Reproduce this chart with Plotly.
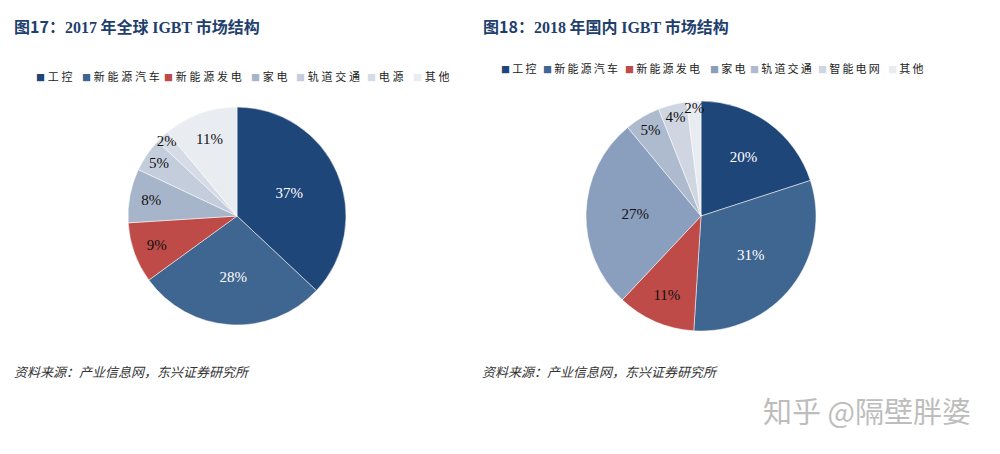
import plotly.graph_objects as go

# ---- data ----
cats_2017 = ["工控", "新能源汽车", "新能源发电", "家电", "轨道交通", "电源", "其他"]
vals_2017 = [37, 28, 9, 8, 5, 2, 11]
cols_2017 = ["#1F4679", "#3F6591", "#BE4B48", "#A7B5CA", "#C3CDDB", "#D6DCE6", "#E9ECF1"]
txtc_2017 = ["white", "white", "#111111", "#111111", "#111111", "#111111", "#111111"]

cats_2018 = ["工控", "新能源汽车", "新能源发电", "家电", "轨道交通", "智能电网", "其他"]
vals_2018 = [20, 31, 11, 27, 5, 4, 2]
cols_2018 = ["#1F4679", "#3F6591", "#BE4B48", "#8A9FBD", "#AEBBCF", "#CFD6E2", "#E8EBF0"]
txtc_2018 = ["white", "white", "#111111", "#111111", "#111111", "#111111", "#111111"]

title_2017 = ["图17：", "2017", " 年全球 ", "IGBT", " 市场结构"]
title_2018 = ["图18：", "2018", " 年国内 ", "IGBT", " 市场结构"]
source_txt = "资料来源：产业信息网，东兴证券研究所"

W, H = 1000, 454
SANS = "Noto Sans CJK SC"
SERIF = "Liberation Serif"

fig = go.Figure()


def add_pie(vals, cats, cols, txtc, cx, cy, r):
    fig.add_trace(go.Pie(
        values=vals, labels=cats, sort=False, direction="clockwise", rotation=0,
        marker=dict(colors=cols, line=dict(color="white", width=0.5)),
        texttemplate="%{value}%", textposition="inside",
        insidetextorientation="horizontal",
        textfont=dict(family=SERIF, size=15, color=txtc),
        domain=dict(x=[(cx - r) / W, (cx + r) / W],
                    y=[(H - cy - r) / H, (H - cy + r) / H]),
        showlegend=False, hoverinfo="label+percent",
    ))


add_pie(vals_2017, cats_2017, cols_2017, txtc_2017, 237, 216, 109)
add_pie(vals_2018, cats_2018, cols_2018, txtc_2018, 701, 216, 115)


def spaced(s, sp):
    return sp.join(list(s))


ann = []
# titles (serif for Latin / numbers, sans for CJK)
for x0, parts in [(12, title_2017), (481, title_2018)]:
    txt = ""
    for i, p in enumerate(parts):
        fam = SERIF if i in (1, 3) else SANS
        txt += "<span style='font-family:%s'>%s</span>" % (fam, p)
    ann.append(dict(x=x0 / W, y=1 - 26 / H, xref="paper", yref="paper", xanchor="left", yanchor="middle",
                    text="<b>" + txt + "</b>", showarrow=False,
                    font=dict(family=SANS, size=16, color="#1F3F6E")))
# sources
for x0 in [12, 480]:
    ann.append(dict(x=x0 / W, y=1 - 371 / H, xref="paper", yref="paper", xanchor="left", yanchor="middle",
                    text="<i>" + source_txt + "</i>", showarrow=False,
                    font=dict(family=SANS, size=13, color="#333333")))

# legends (x position of each marker)
leg_x_2017 = [34, 80, 162, 249, 294, 365, 411]
leg_x_2018 = [499, 541, 623, 708, 748, 816, 886]
for xs, cats, cols, yy, sp in [(leg_x_2017, cats_2017, cols_2017, 76, "\u2005"),
                               (leg_x_2018, cats_2018, cols_2018, 68, "\u2009")]:
    for x0, c, col in zip(xs, cats, cols):
        ann.append(dict(x=x0 / W, y=1 - yy / H, xref="paper", yref="paper", xanchor="left", yanchor="middle",
                        text="<span style='color:%s;font-size:9px'>■</span>%s%s" % (col, sp, spaced(c, sp)),
                        showarrow=False,
                        font=dict(family=SANS, size=11, color="#222222")))

# watermark
ann.append(dict(x=867 / W, y=1 - 410 / H, xref="paper", yref="paper", xanchor="center", yanchor="middle",
                text="知乎 @隔壁胖婆", showarrow=False,
                font=dict(family=SANS, size=29, color="#BDBDBD")))

fig.update_layout(
    width=W, height=H, margin=dict(l=0, r=0, t=0, b=0),
    paper_bgcolor="white", plot_bgcolor="white",
    annotations=ann,
    uniformtext=dict(minsize=15, mode="show"),
)

fig.write_html("out.html")
